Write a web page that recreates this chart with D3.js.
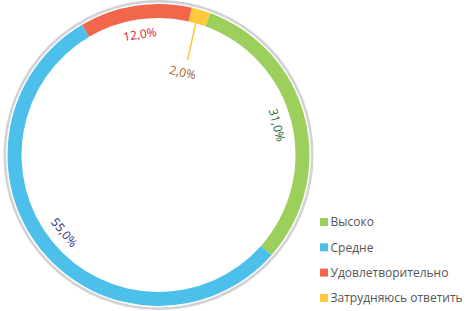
<!DOCTYPE html>
<html>
<head>
<meta charset="utf-8">
<script src="https://cdn.jsdelivr.net/npm/d3@7"></script>
<style>
  body { margin: 0; background: #fff; }
  svg { display: block; font-family: "Open Sans", sans-serif; }
</style>
</head>
<body>
<svg id="chart" width="468" height="311"></svg>
<script>
// data
var categories = ['Высоко', 'Средне', 'Удовлетворительно', 'Затрудняюсь ответить'];
var values = [31, 55, 12, 2];
var sliceColors = ['#9ccf5c', '#4cbfeb', '#f2674c', '#fdc93c'];
var labelColors = ['#1d6b44', '#2a2f7c', '#d4213d', '#a0612a'];

var cx = 158.5,
    cy = 155,
    outerR = 151,
    innerR = 137,
    labelR = 122,
    startDeg = 20;

var svg = d3.select('#chart');

var g = svg.append('g')
    .attr('transform', 'translate(' + cx + ',' + cy + ')');

// grey outer ring
g.append('circle')
    .attr('r', outerR + 2.8)
    .attr('fill', 'none')
    .attr('stroke', '#d3d3d6')
    .attr('stroke-width', 2.6);

var pie = d3.pie()
    .sort(null)
    .value(function(d) { return d; })
    .startAngle(startDeg * Math.PI / 180)
    .endAngle(startDeg * Math.PI / 180 + 2 * Math.PI);

var arcs = pie(values);

var arc = d3.arc()
    .innerRadius(innerR)
    .outerRadius(outerR);

g.selectAll('path.slice')
    .data(arcs)
    .enter()
    .append('path')
    .attr('class', 'slice')
    .attr('d', arc)
    .attr('fill', function(d, i) { return sliceColors[i]; });

function midAngle(d) {
    return (d.startAngle + d.endAngle) / 2;
}

function fmt(v) {
    return v.toFixed(1).replace('.', ',') + '%';
}

// small slices get a leader line and the label is pushed inward
arcs.forEach(function(d, i) {
    var a = midAngle(d),
        deg = a * 180 / Math.PI % 360,
        small = values[i] < 5,
        r = small ? 86 : labelR;

    if (small) {
        g.append('line')
            .attr('x1', Math.sin(a - 0.01) * innerR)
            .attr('y1', -Math.cos(a - 0.01) * innerR)
            .attr('x2', Math.sin(a + 0.01) * 99)
            .attr('y2', -Math.cos(a + 0.01) * 99)
            .attr('stroke', sliceColors[i])
            .attr('stroke-width', 1.5);
    }

    var x = Math.sin(a) * r,
        y = -Math.cos(a) * r,
        rot = (deg > 90 && deg < 270) ? deg - 180 : deg;
    if (small) rot = 12;

    g.append('text')
        .attr('transform', 'translate(' + x + ',' + y + ') rotate(' + rot + ')')
        .attr('text-anchor', 'middle')
        .attr('dy', '0.35em')
        .attr('font-size', 12)
        .attr('fill', labelColors[i])
        .text(fmt(values[i]));
});

// legend
var legend = svg.append('g')
    .attr('transform', 'translate(320,222)');

var item = legend.selectAll('g.item')
    .data(categories)
    .enter()
    .append('g')
    .attr('class', 'item')
    .attr('transform', function(d, i) { return 'translate(0,' + (i * 25.3) + ')'; });

item.append('rect')
    .attr('x', 0)
    .attr('y', -4)
    .attr('width', 8)
    .attr('height', 8)
    .attr('fill', function(d, i) { return sliceColors[i]; });

item.append('text')
    .attr('x', 10.5)
    .attr('dy', '0.35em')
    .attr('font-size', 12)
    .attr('fill', '#555')
    .text(function(d) { return d; });
</script>
</body>
</html>
